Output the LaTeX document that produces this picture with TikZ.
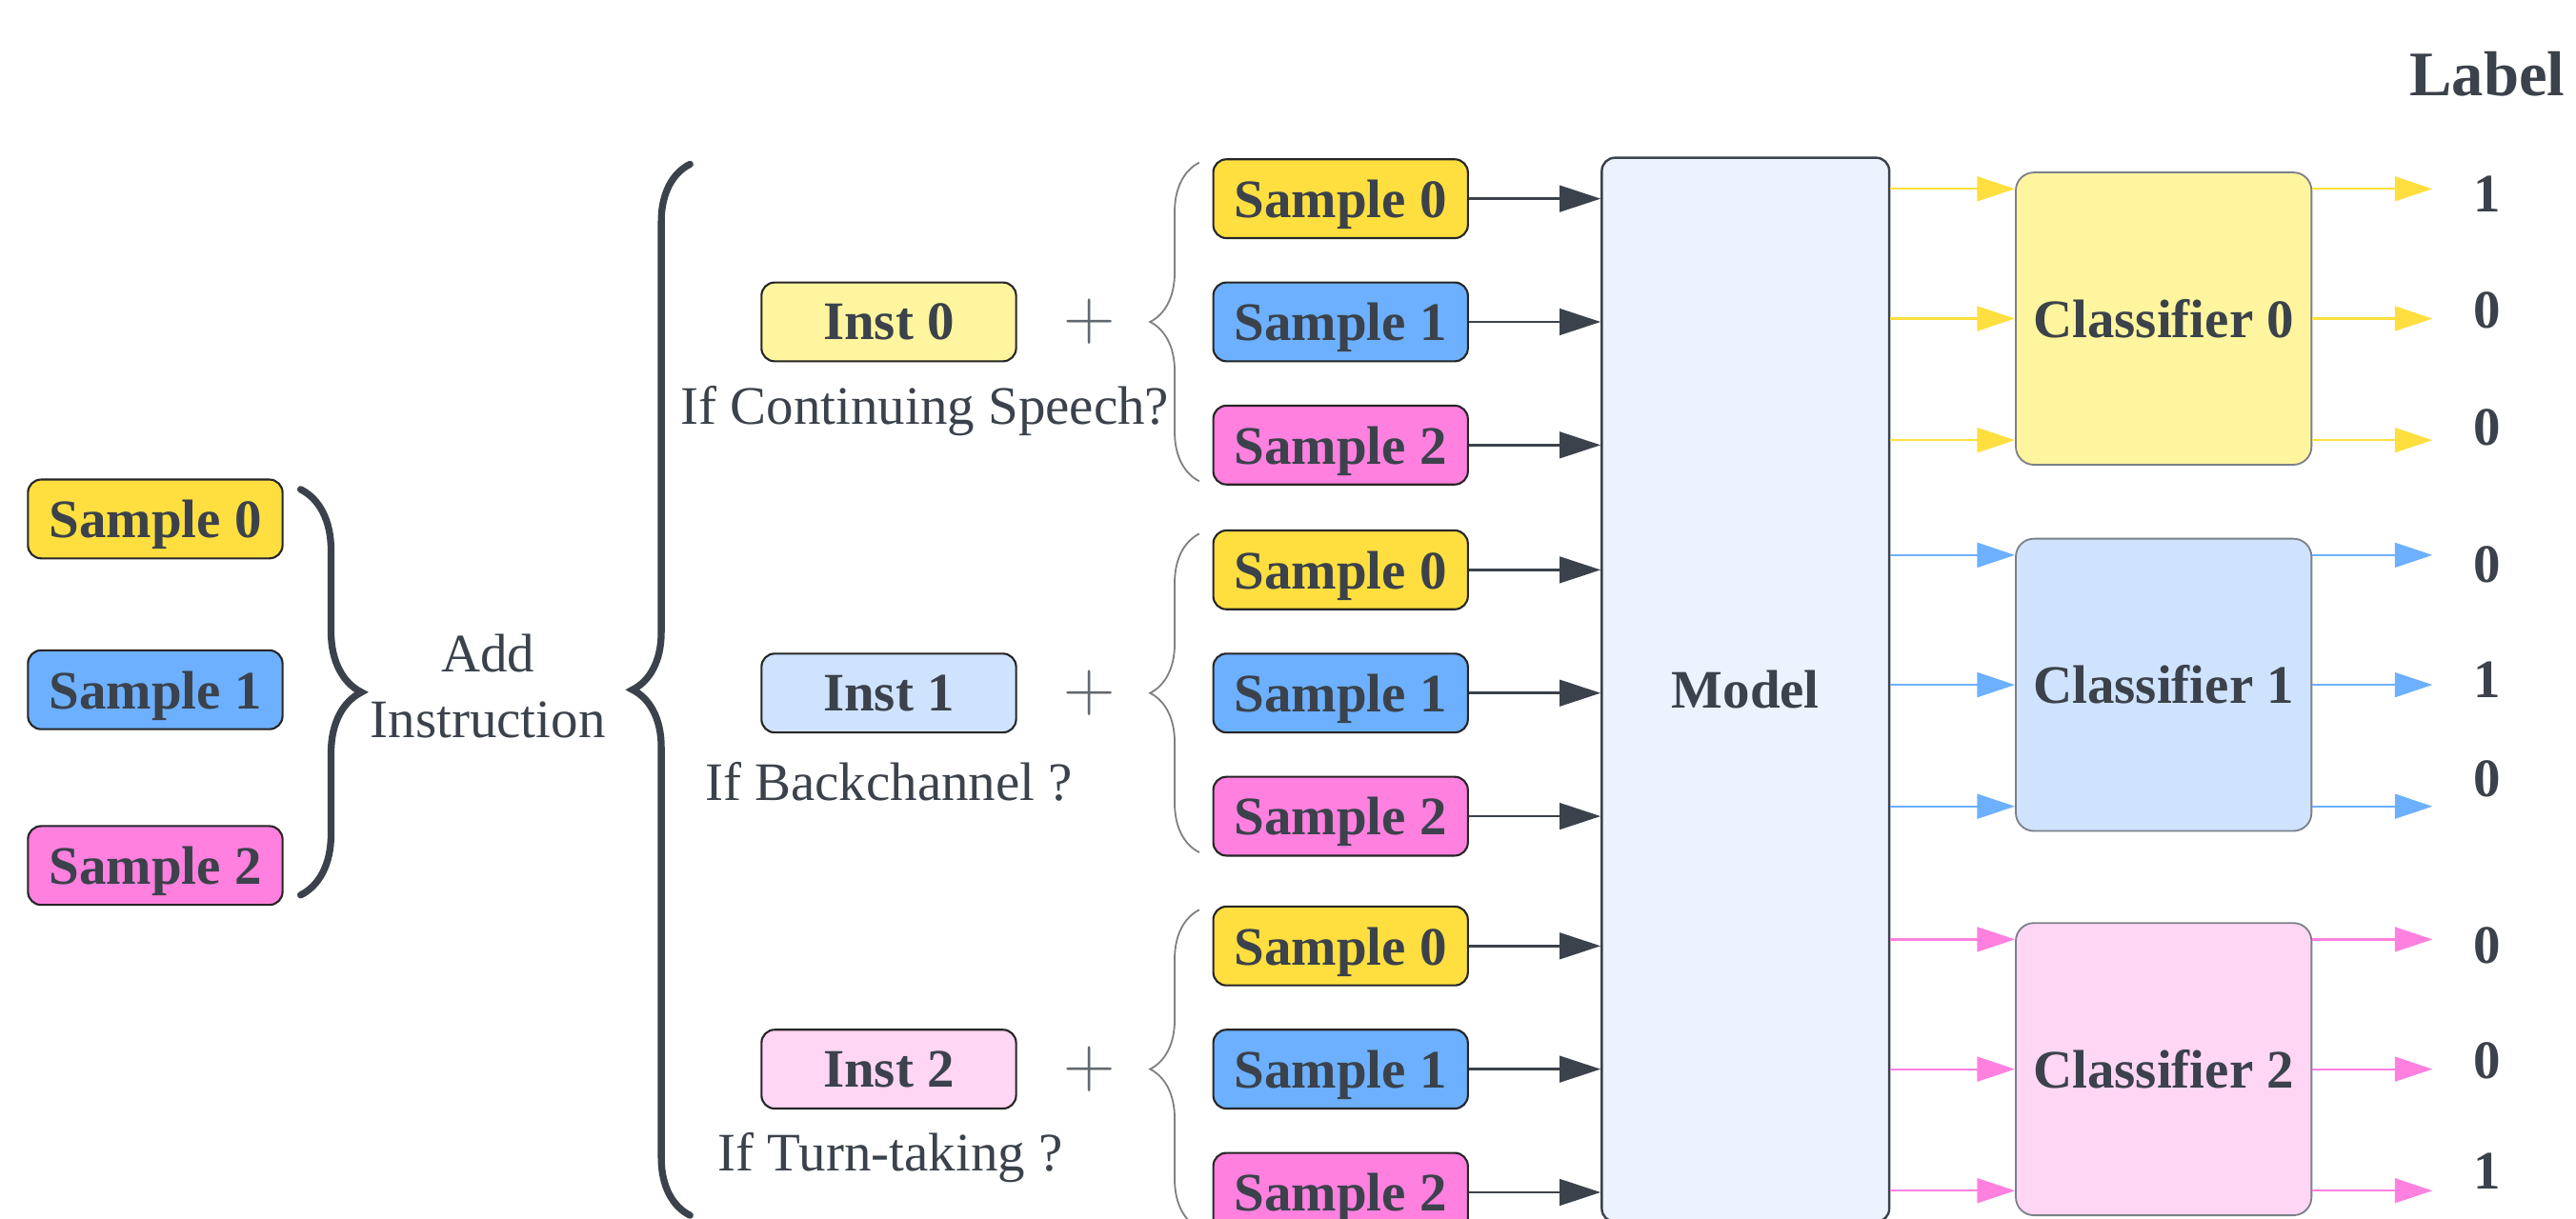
\documentclass[tikz,border=0pt]{standalone}
\usepackage{fontspec}
\setmainfont{Liberation Serif}
\usetikzlibrary{arrows.meta,positioning,calc,decorations.pathreplacing}
\definecolor{ink}{HTML}{3B424B}
\definecolor{smp0}{HTML}{FFDF3F}
\definecolor{smp1}{HTML}{6CB0FF}
\definecolor{smp2}{HTML}{FF80DF}
\definecolor{pale0}{HTML}{FFF59E}
\definecolor{pale1}{HTML}{CFE3FE}
\definecolor{pale2}{HTML}{FFD6F3}
\definecolor{modelbg}{HTML}{ECF2FE}
\definecolor{clsline}{HTML}{7B8088}
\newcommand{\normsize}{\fontsize{18.8}{22.8}\selectfont}
\tikzset{
  txt/.style={text=ink,font=\normsize},
  tag/.style={text=ink,font=\normsize\bfseries,draw=black!85,line width=0.7pt,
    rounded corners=0.16cm,minimum width=3.1cm,minimum height=0.96cm,inner sep=0pt,
    text depth=0pt},
  modelbox/.style={text=ink,font=\normsize\bfseries,draw=ink,fill=modelbg,line width=0.8pt,
    rounded corners=0.16cm,minimum width=3.5cm,minimum height=12.96cm},
  clsbox/.style={text=ink,font=\normsize\bfseries,draw=clsline,line width=0.6pt,
    rounded corners=0.22cm,minimum width=3.6cm,minimum height=3.56cm},
  digit/.style={text=ink,font=\normsize\bfseries,minimum width=1.32cm,inner sep=0pt},
  plus/.style={text=ink!80,font=\fontsize{29}{29}\selectfont,inner sep=0pt},
  brc/.style={decorate,decoration={brace,amplitude=#1},line width=2.4pt,draw=ink,line cap=round},
  sbrc/.style={decorate,decoration={brace,amplitude=0.6cm},line width=0.6pt,draw=gray},
  fl/.style={-{Triangle[length=0.5cm,width=0.32cm]},line width=0.9pt,draw=ink},
  flc/.style={-{Triangle[length=0.46cm,width=0.3cm]},line width=0.75pt,draw=#1},
}
\begin{document}
\begin{tikzpicture}[x=0.02cm,y=-0.02cm]
  \useasboundingbox (0,0) rectangle (1568,742);

  % raw samples, then the instruction step
  \node[tag,fill=smp0] (a0) at (94.5,316) {Sample 0};
  \node[tag,fill=smp1] (a1) at (94.5,420) {Sample 1};
  \node[tag,fill=smp2] (a2) at (94.5,527) {Sample 2};
  \draw[brc=0.74cm] (183,298) -- (183,545);
  \node[txt,align=center] (add) at (297,418) {Add\\Instruction};
  \draw[brc=0.7cm] (420,740) -- (420,100);

  % one instruction per task, paired with every sample
  \foreach \g/\y/\q/\qx in {0/196/{If Continuing Speech?}/563,
      1/422/{If Backchannel ?}/541,2/651/{If Turn-taking ?}/542}{
    \node[tag,fill=pale\g] (inst\g) at (541,\y) {Inst \g};
    \node[txt] (q\g) at (\qx,\y+54) {\q};
    \node[plus] (plus\g) at (663,\y) {$+$};
    \draw[sbrc] (730,\y+97) -- (730,\y-97);
    \foreach \k in {0,1,2}
      \node[tag,fill=smp\k] (s\g\k) at (816,{\y+75*\k-75}) {Sample \k};
  }

  \node[modelbox] (model) at (1062.5,420) {Model};

  \node[clsbox,fill=pale0] (cls0) at (1317,194) {Classifier 0};
  \node[clsbox,fill=pale1] (cls1) at (1317,417) {Classifier 1};
  \node[clsbox,fill=pale2] (cls2) at (1317,651) {Classifier 2};

  \node[text=ink,font=\fontsize{22}{26}\selectfont\bfseries] (lbl) at (1514,45) {Label};
  \foreach \c/\k/\y/\v in {0/0/118/1,0/1/189/0,0/2/260/0,1/0/344/0,1/1/414/1,
      1/2/474/0,2/0/576/0,2/1/646/0,2/2/713/1}
    \node[digit] (l\c\k) at (1514,\y) {\v};

  % samples into the model
  \foreach \g in {0,1,2}
    \foreach \k in {0,1,2}
      \draw[fl] (s\g\k.east) -- (s\g\k.east -| model.west);

  % model -> classifiers -> labels
  \foreach \c in {0,1,2}
    \foreach \k/\dy in {0/-79,1/0,2/74}{
      \coordinate (cin\c\k) at ($(cls\c.west)+(0,\dy)$);
      \coordinate (cout\c\k) at ($(cls\c.east)+(0,\dy)$);
      \draw[flc=smp\c] (cin\c\k -| model.east) -- (cin\c\k);
      \draw[flc=smp\c] (cout\c\k) -- (cout\c\k -| l\c\k.west);
    }
\end{tikzpicture}
\end{document}
